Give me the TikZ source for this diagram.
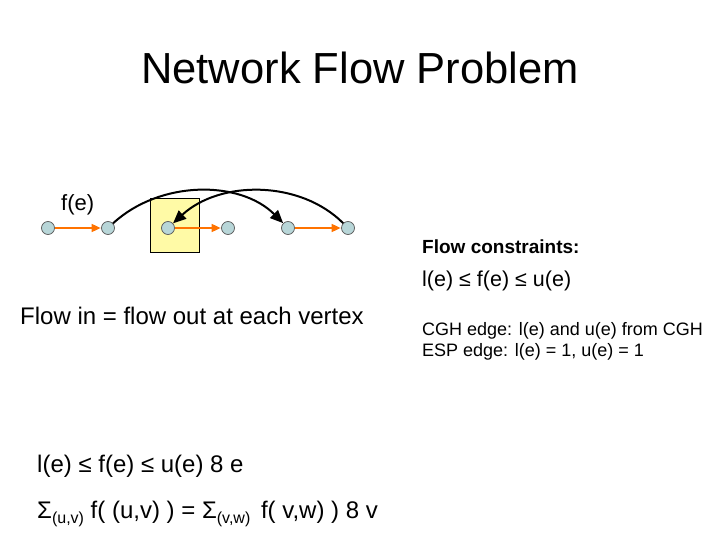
\documentclass[tikz,border=0pt]{standalone}
\usepackage{fontspec}
\setmainfont{Liberation Sans}
\usetikzlibrary{arrows.meta}
\definecolor{vfill}{RGB}{184,214,216}
\begin{document}
\begin{tikzpicture}[x=1pt,y=-1pt,
  v/.style={circle,draw=gray!70!black,fill=vfill,minimum size=13pt,inner sep=0pt,line width=0.7pt},
  fe/.style={draw=orange!90!red,line width=1.6pt,-{Triangle[length=9pt,width=8pt]},shorten >=0.5pt},
  arc/.style={draw=black,line width=2pt,-{Triangle[length=13pt,width=11pt]}},
  txt/.style={anchor=west,inner sep=0pt,font=\fontsize{24}{28}\selectfont}]
\useasboundingbox (0,0) rectangle (720,540);
\node[font=\fontsize{43.5}{50}\selectfont] (title) at (360,68) {Network Flow Problem};
\node[draw=black,fill=yellow!35,line width=0.6pt,minimum width=49pt,minimum height=54pt] (box) at (174.5,225) {};
\node[v] (a) at (48,228) {};
\node[v] (b) at (108,228) {};
\node[v] (c) at (168,228) {};
\node[v] (d) at (228,228) {};
\node[v] (e) at (288,228) {};
\node[v] (f) at (348,228) {};
\draw[fe] (a) -- (b);
\draw[fe] (c) -- (d);
\draw[fe] (e) -- (f);
\draw[arc] (b) .. controls (160,180) and (240,180) .. (e);
\draw[arc] (f) .. controls (300,180) and (220,180) .. (c);
\node[txt,font=\fontsize{22}{26}\selectfont] (fe) at (61,205) {f(e)};
\node[txt,font=\fontsize{19}{22}\selectfont\bfseries] (fc) at (422,247) {Flow constraints:};
\node[txt,font=\fontsize{21.5}{25}\selectfont] (le) at (422,281) {l(e) ≤ f(e) ≤ u(e)};
\node[txt] (fin) at (20,316) {Flow in = flow out at each vertex};
\node[txt,font=\fontsize{18}{21}\selectfont] (cgh) at (422,331) {CGH edge: l(e) and u(e) from CGH};
\node[txt,font=\fontsize{18}{21}\selectfont] (esp) at (422,352) {ESP edge: l(e) = 1, u(e) = 1};
\node[txt] (l2) at (37,466) {l(e) ≤ f(e) ≤ u(e) 8 e};
\node[txt] (sum) at (37,514) {Σ\raisebox{-0.35ex}{\fontsize{16}{18}\selectfont(u,v)} f( (u,v) ) = Σ\raisebox{-0.35ex}{\fontsize{16}{18}\selectfont(v,w)}\, f( v,w) ) 8 v};
\end{tikzpicture}
\end{document}
